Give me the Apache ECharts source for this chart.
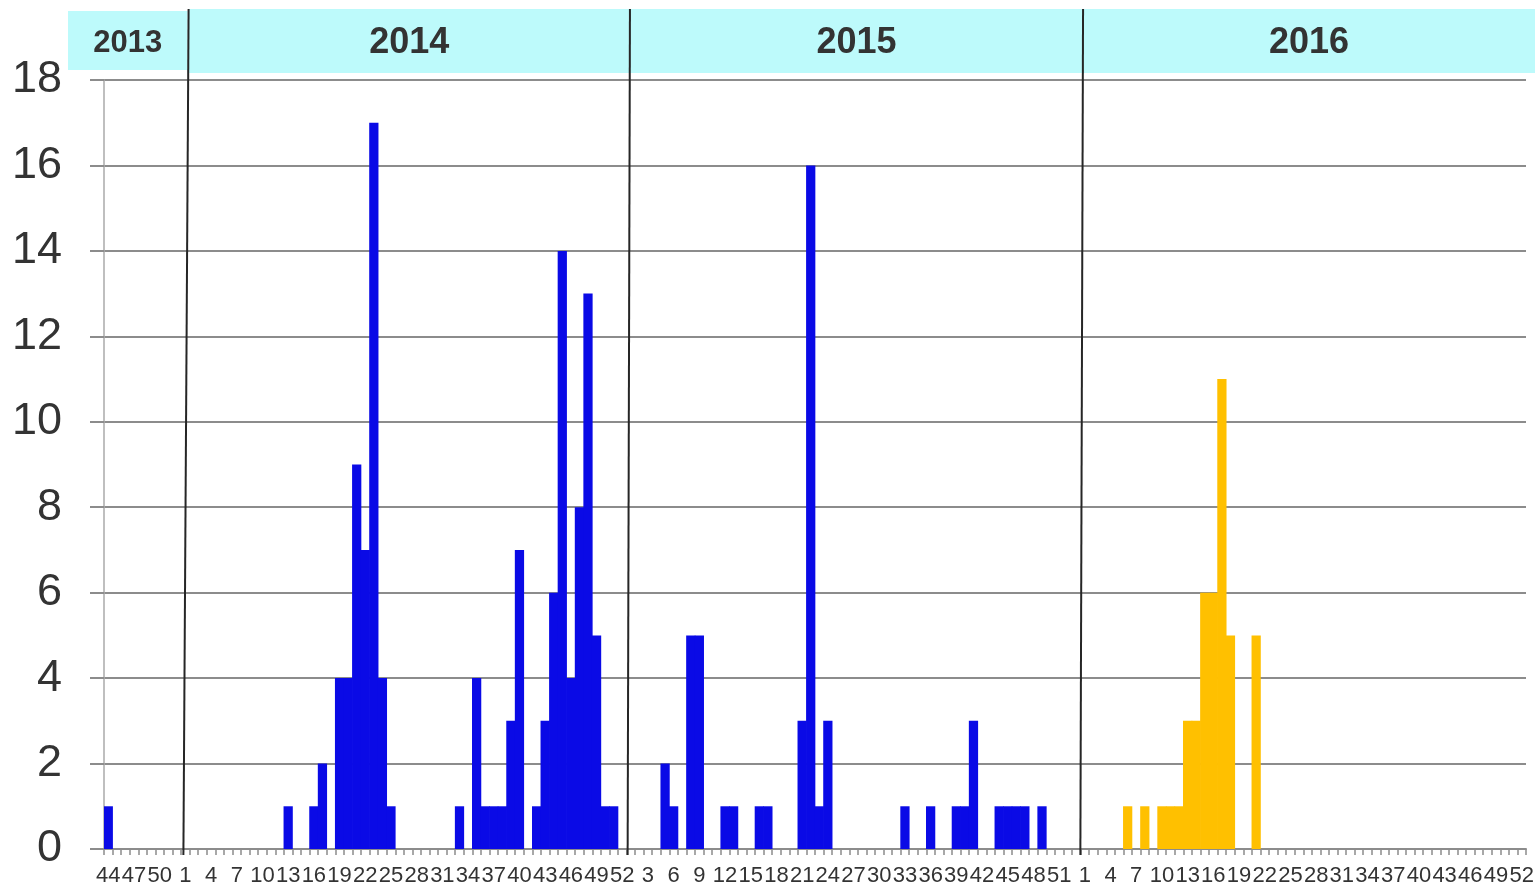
<!DOCTYPE html>
<html>
<head>
<meta charset="utf-8">
<title>Weekly cases</title>
<script src="https://cdn.jsdelivr.net/npm/echarts@6/dist/echarts.min.js"></script>
<style>
  html, body { margin: 0; padding: 0; background: #fff; }
  #main { width: 1535px; height: 882px; }
</style>
</head>
<body>
<div id="main"></div>
<script>
// 年份
const years = ['2013', '2014', '2015', '2016']
// 每年的周范围 (2013 从第 44 周开始, 2015 有 53 周)
const weekRanges = [[44, 52], [1, 52], [1, 53], [1, 52]]

// 每周病例数
const cases2013 = [1, 0, 0, 0, 0, 0, 0, 0, 0]
const cases2014 = [
  0, 0, 0, 0, 0, 0, 0, 0, 0, 0, 0, 0,
  1, 0, 0, 1, 2, 0,
  4, 4, 9, 7, 17, 4, 1,
  0, 0, 0, 0, 0, 0, 0,
  1, 0, 4, 1, 1, 1, 3, 7, 0,
  1, 3, 6, 14, 4, 8, 13, 5, 1, 1, 0
]
const cases2015 = [
  0, 0, 0, 0,
  2, 1, 0, 5, 5, 0, 0, 1, 1, 0, 0, 1, 1,
  0, 0, 0,
  3, 16, 1, 3,
  0, 0, 0, 0, 0, 0, 0, 0,
  1, 0, 0, 1, 0, 0, 1, 1, 3, 0, 0, 1, 1, 1, 1, 0, 1,
  0, 0, 0, 0
]
const cases2016 = [
  0, 0, 0, 0, 0, 1, 0, 1, 0, 1, 1, 1, 3, 3, 6, 6, 11, 5, 0, 0, 5,
  0, 0, 0, 0, 0, 0, 0, 0, 0, 0, 0, 0, 0, 0, 0, 0, 0, 0, 0, 0, 0, 0, 0, 0, 0, 0, 0, 0, 0, 0, 0
]

// y 轴刻度
const yMin = 0
const yMax = 18
const yStep = 2

const font = "'Liberation Sans', Arial, sans-serif"

// 类目: "年-W周", 标签只显示周数
const categories = []
const yearStart = []
weekRanges.forEach(([a, b], k) => {
  yearStart.push(categories.length)
  for (let w = a; w <= b; w++) categories.push(years[k] + '-W' + w)
})
yearStart.push(categories.length)

// 0 不画柱子
const noZero = v => (v === 0 ? '-' : v)
const blueData = cases2013.concat(cases2014, cases2015).map(noZero).concat(cases2016.map(() => '-'))
const orangeData = cases2013.concat(cases2014, cases2015).map(() => '-').concat(cases2016.map(noZero))

const chart = echarts.init(document.getElementById('main'))

const option = {
  animation: false,
  textStyle: { fontFamily: font },
  grid: { left: 104, right: 9, top: 80, bottom: 33, outerBoundsMode: 'none', containLabel: false },
  xAxis: {
    type: 'category',
    data: categories,
    boundaryGap: true,
    axisLine: { lineStyle: { color: '#8c8c8c', width: 2 } },
    axisTick: { show: true, interval: 0, length: 6, lineStyle: { color: '#8c8c8c', width: 1.5 } },
    axisLabel: {
      interval: 2,
      fontSize: 22,
      color: '#333',
      margin: 16,
      fontFamily: font,
      formatter: v => v.split('-W')[1]
    },
    splitLine: { show: false }
  },
  yAxis: {
    type: 'value',
    min: yMin,
    max: yMax,
    interval: yStep,
    axisLine: { show: true, lineStyle: { color: '#aaa', width: 1.5 } },
    axisTick: { show: true, length: 14, lineStyle: { color: '#8c8c8c', width: 2 } },
    axisLabel: { fontSize: 45, color: '#333', margin: 42, fontFamily: font },
    splitLine: { lineStyle: { color: '#8c8c8c', width: 2 } }
  },
  series: [
    {
      type: 'bar',
      stack: 'all',
      barWidth: '108%',
      itemStyle: { color: '#0a0ae6' },
      data: blueData
    },
    {
      type: 'bar',
      stack: 'all',
      barWidth: '108%',
      itemStyle: { color: '#ffc000' },
      data: orangeData
    }
  ]
}
chart.setOption(option)

// 年份标题栏和分隔线, 用坐标轴换算位置
const cx = i => chart.convertToPixel({ xAxisIndex: 0 }, i)
const bw = cx(1) - cx(0)
const edge = i => cx(i) - bw / 2
const axisY = chart.convertToPixel({ yAxisIndex: 0 }, 0)
const topOff = [0, 7.5, 3.4, 2.5]
const botOff = [0, 2.3, 1.1, -0.2]
const lineTop = years.map((y, k) => edge(yearStart[k]) + topOff[k])

const elements = []
years.forEach((y, k) => {
  let x1, x2, top, h, size
  if (k === 0) {
    x1 = edge(0) - 36; x2 = lineTop[1] - 1; top = 11; h = 59; size = 31
  } else {
    x1 = lineTop[k]; x2 = k < 3 ? lineTop[k + 1] : 1535; top = 9; h = 64; size = 36
  }
  elements.push({
    type: 'rect', z: 1,
    shape: { x: x1, y: top, width: x2 - x1, height: h },
    style: { fill: '#bdfafb' }
  })
  elements.push({
    type: 'text', z: 3,
    x: (x1 + x2) / 2, y: 43,
    style: {
      text: y, fill: '#333', font: 'bold ' + size + 'px ' + font,
      align: 'center', verticalAlign: 'middle'
    }
  })
  if (k > 0) {
    const e = edge(yearStart[k])
    elements.push({
      type: 'line', z: 4,
      shape: { x1: e + topOff[k], y1: 9, x2: e + botOff[k], y2: axisY + 6 },
      style: { stroke: '#262626', lineWidth: 2 }
    })
  }
})
chart.setOption({ graphic: { elements } })
</script>
</body>
</html>
